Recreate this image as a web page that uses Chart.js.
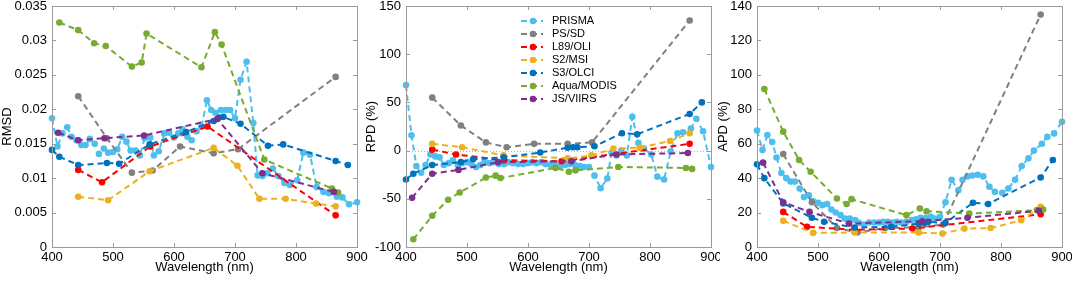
<!DOCTYPE html>
<html>
<head>
<meta charset="utf-8">
<script src="https://cdn.jsdelivr.net/npm/chart.js@4.4.1/dist/chart.umd.min.js"></script>
<style>
  body { margin: 0; background: #fff; }
  #wrap { position: relative; width: 1072px; height: 281px; overflow: hidden; }
  canvas { position: absolute; top: 0; }
</style>
</head>
<body>
<div id="wrap">
  <canvas id="c1" width="372" height="281" style="left:0px"></canvas>
  <canvas id="c2" width="360" height="281" style="left:360px"></canvas>
  <canvas id="c3" width="360" height="281" style="left:712px"></canvas>
</div>
<script>
// wavelengths (nm) of each sensor
const prismaWl = [400, 409, 417, 425, 432, 440, 448, 455, 462, 470, 477, 485, 492, 500, 507, 515, 522, 529, 537, 544,
  552, 561, 567, 575, 584, 592, 600, 607, 614, 622, 629, 637, 645, 654, 661, 668, 677, 685, 692, 700,
  709, 719, 730, 737, 745, 753, 762, 771, 781, 790, 802, 812, 823, 834, 845, 854, 867, 876, 887, 900];
const psWl = [443, 490, 531, 565, 610, 665, 705, 865];
const oliWl = [443, 482, 561, 655, 865];
const msiWl = [443, 492, 560, 665, 704, 740, 783, 833, 865];
const olciWl = [400, 412, 443, 490, 510, 560, 620, 665, 674, 681, 709, 754, 779, 865, 885];
const modisWl = [412, 443, 469, 488, 531, 547, 555, 645, 667, 678, 748, 859, 869];
const viirsWl = [410, 443, 486, 551, 671, 745, 862];

// RMSD
const prismaRmsd = [0.0187, 0.0146, 0.0165, 0.0174, 0.0160, 0.0155, 0.0148, 0.0148, 0.0157, 0.0150,
  0.0135, 0.0143, 0.0137, 0.0138, 0.0142, 0.0160, 0.0153, 0.0140, 0.0140, 0.0133,
  0.0158, 0.0159, 0.0133, 0.0139, 0.0165, 0.0166, 0.0159, 0.0165, 0.0171, 0.0160,
  0.0155, 0.0168, 0.0175, 0.0213, 0.0199, 0.0195, 0.0199, 0.0199, 0.0199, 0.0187,
  0.0243, 0.0269, 0.0180, 0.0104, 0.0103, 0.0107, 0.0114, 0.0103, 0.0093, 0.0090,
  0.0097, 0.0137, 0.0134, 0.0087, 0.0080, 0.0078, 0.0073, 0.0072, 0.0062, 0.0065];
const psRmsd = [0.0219, 0.0158, 0.0108, 0.0111, 0.0146, 0.0136, 0.0142, 0.0247];
const oliRmsd = [0.0112, 0.0094, 0.0146, 0.0175, 0.0046];
const msiRmsd = [0.0073, 0.0068, 0.0110, 0.0144, 0.0118, 0.0070, 0.0070, 0.0063, 0.0059];
const olciRmsd = [0.0141, 0.0131, 0.0119, 0.0122, 0.0121, 0.0149, 0.0167, 0.0183, 0.0188, 0.0189, 0.0179, 0.0147, 0.0149, 0.0125, 0.0119];
const modisRmsd = [0.0326, 0.0315, 0.0296, 0.0292, 0.0262, 0.0268, 0.0310, 0.0261, 0.0312, 0.0294, 0.0127, 0.0085, 0.0079];
const viirsRmsd = [0.0166, 0.0155, 0.0158, 0.0162, 0.0186, 0.0107, 0.0080];

// RPD (%)
const prismaRpd = [68, 16, -16, -23, -15, -4, -6, -7, -15, -13,
  -10, -15, -13, -12, -14, -17, -15, -12, -13, -12,
  -14, -14, -12, -13, -14, -14, -13, -12, -13, -12,
  -14, -15, -15, -16, -15, -14, -15, -16, -17, -17,
  -26, -39, -29, -2, -5, 0, -5, 35, 8, 2,
  -4, -27, -30, -1, 18, 19, 23, 33, 20, -17];
const psRpd = [55, 26, 8.5, 3.5, 7, 7, 8.5, 135];
const oliRpd = [1, -4, -10, -11, 7];
const msiRpd = [7, 3.5, -5, -8, -5, 2, 3, 10, 18];
const olciRpd = [-30, -24, -15, -12, -9, -7, -2, 3, 3.5, 3.5, 4.5, 18, 17, 38, 50];
const modisRpd = [-92, -67.6, -51, -43.5, -28, -26, -28.5, -18, -22, -20.5, -17, -18, -19];
const viirsRpd = [-49, -24, -20, -12, -11, -4, -2.5];

// APD (%)
const prismaApd = [67.7, 56.4, 65, 61, 52, 43, 40, 38, 38, 34,
  29, 30, 26.6, 25.7, 24.3, 25, 21.8, 20, 18.5, 16.5,
  16.5, 15.6, 14, 13, 14.2, 14.2, 14.2, 14.6, 14.6, 14.2,
  14.6, 14.2, 14.6, 15.6, 16.1, 16.9, 16.9, 17.5, 16.5, 17.5,
  26, 39, 33, 39, 41, 41.5, 42, 41, 35, 32,
  31.5, 34, 39, 47, 51.5, 56, 60, 64, 66, 72.7];
const psApd = [54, 26, 11, 8.5, 11, 11.5, 13, 135];
const oliApd = [20.4, 11.7, 10, 10.7, 19];
const msiApd = [15.2, 8.2, 8.4, 8.4, 7.8, 10.7, 11, 15.5, 23.3];
const olciApd = [48, 40, 25.3, 17, 14.6, 11.3, 11.7, 13.6, 14, 14.6, 14, 25.7, 25, 40.4, 50.5];
const modisApd = [91.8, 67, 50.5, 43.7, 28.2, 25, 27.8, 18.5, 22.4, 20.8, 19.4, 21.4, 21.8];
const viirsApd = [49, 26, 20.4, 13.6, 15, 17, 21];

const xTicks = [400, 500, 600, 700, 800, 900];

const series = [
  { label: 'PRISMA', color: '#4DBEEE', wl: prismaWl, rmsd: prismaRmsd, rpd: prismaRpd, apd: prismaApd },
  { label: 'PS/SD', color: '#808080', wl: psWl, rmsd: psRmsd, rpd: psRpd, apd: psApd },
  { label: 'L89/OLI', color: '#FF0000', wl: oliWl, rmsd: oliRmsd, rpd: oliRpd, apd: oliApd },
  { label: 'S2/MSI', color: '#EDB120', wl: msiWl, rmsd: msiRmsd, rpd: msiRpd, apd: msiApd },
  { label: 'S3/OLCI', color: '#0072BD', wl: olciWl, rmsd: olciRmsd, rpd: olciRpd, apd: olciApd },
  { label: 'Aqua/MODIS', color: '#77AC30', wl: modisWl, rmsd: modisRmsd, rpd: modisRpd, apd: modisApd },
  { label: 'JS/VIIRS', color: '#7E2F8E', wl: viirsWl, rmsd: viirsRmsd, rpd: viirsRpd, apd: viirsApd }
];

const FONT = "'Liberation Sans', Arial, Helvetica, sans-serif";
Chart.defaults.font.family = FONT;
Chart.defaults.font.size = 13;
Chart.defaults.color = '#000';
const AXIS_COLOR = '#9a9a9a';

function datasetsFor(key) {
  return series.map((s, i) => ({
    label: s.label,
    data: s.wl.map((w, j) => ({ x: w, y: s[key][j] })),
    borderColor: s.color,
    backgroundColor: s.color,
    borderWidth: 2,
    borderDash: [6, 4],
    pointRadius: 3.3,
    pointBorderWidth: 0,
    pointBackgroundColor: s.color,
    tension: 0,
    clip: false,
    order: series.length - i
  }));
}

// box with inward ticks, like the matlab axes
const framePlugin = {
  id: 'frame',
  afterDatasetsDraw(chart) {
    const { ctx, chartArea: a, scales } = chart;
    ctx.save();
    ctx.strokeStyle = AXIS_COLOR;
    ctx.lineWidth = 1;
    ctx.beginPath();
    scales.x.ticks.forEach(t => {
      const px = Math.round(scales.x.getPixelForValue(t.value)) + 0.5;
      ctx.moveTo(px, a.bottom); ctx.lineTo(px, a.bottom - 4);
      ctx.moveTo(px, a.top); ctx.lineTo(px, a.top + 4);
    });
    scales.y.ticks.forEach(t => {
      const py = Math.round(scales.y.getPixelForValue(t.value)) + 0.5;
      ctx.moveTo(a.left, py); ctx.lineTo(a.left + 4, py);
      ctx.moveTo(a.right, py); ctx.lineTo(a.right - 4, py);
    });
    ctx.stroke();
    ctx.strokeRect(Math.round(a.left) + 0.5, Math.round(a.top) + 0.5,
      Math.round(a.right - a.left), Math.round(a.bottom - a.top));
    ctx.restore();
  }
};

// dotted zero line in the RPD panel
const zeroPlugin = {
  id: 'zeroLine',
  beforeDatasetsDraw(chart, args, opts) {
    if (!opts.show) return;
    const { ctx, chartArea: a, scales } = chart;
    const y = Math.round(scales.y.getPixelForValue(0)) + 0.5;
    ctx.save();
    ctx.strokeStyle = '#b4b4b4';
    ctx.lineWidth = 1;
    ctx.setLineDash([1, 2]);
    ctx.beginPath();
    ctx.moveTo(a.left, y);
    ctx.lineTo(a.right, y);
    ctx.stroke();
    ctx.restore();
  }
};

// legend drawn inside the plot area
const boxLegend = {
  id: 'boxLegend',
  afterDatasetsDraw(chart, args, opts) {
    if (!opts.show) return;
    const { ctx } = chart;
    ctx.save();
    ctx.font = '11px ' + FONT;
    ctx.textBaseline = 'middle';
    chart.data.datasets.forEach((ds, i) => {
      const y = opts.y + i * opts.step;
      ctx.strokeStyle = ds.borderColor;
      ctx.lineWidth = 2;
      ctx.setLineDash([6, 4]);
      ctx.beginPath();
      ctx.moveTo(opts.x, y);
      ctx.lineTo(opts.x + 22, y);
      ctx.stroke();
      ctx.setLineDash([]);
      ctx.fillStyle = ds.borderColor;
      ctx.beginPath();
      ctx.arc(opts.x + 12, y, 3.3, 0, Math.PI * 2);
      ctx.fill();
      ctx.fillStyle = '#000';
      ctx.fillText(ds.label, opts.x + 31, y);
    });
    ctx.restore();
  }
};

function makePanel(id, key, yMin, yMax, yStep, yTitle, yWidth, yTitlePad, padRight, fmt, extra) {
  return new Chart(document.getElementById(id), {
    type: 'line',
    data: { datasets: datasetsFor(key) },
    plugins: [framePlugin, zeroPlugin, boxLegend],
    options: {
      responsive: false,
      animation: false,
      events: [],
      devicePixelRatio: 1,
      layout: { padding: { left: 0, right: padRight, top: 6, bottom: 0 } },
      plugins: {
        legend: { display: false },
        tooltip: { enabled: false },
        zeroLine: { show: !!extra.zero },
        boxLegend: extra.legend ? Object.assign({ show: true }, extra.legend) : { show: false }
      },
      scales: {
        x: {
          type: 'linear', min: 400, max: 900,
          grid: { display: false, drawTicks: false },
          border: { display: false },
          afterBuildTicks(s) { s.ticks = xTicks.map(v => ({ value: v })); },
          ticks: { padding: 3, maxRotation: 0, autoSkip: false, callback: v => String(v) },
          title: { display: true, text: 'Wavelength (nm)', padding: { top: 0, bottom: 6 } },
          afterFit(s) { s.height = 34; s.paddingLeft = 0; s.paddingRight = 0; }
        },
        y: {
          type: 'linear', min: yMin, max: yMax,
          grid: { display: false, drawTicks: false },
          border: { display: false },
          ticks: { stepSize: yStep, padding: 5, callback: fmt },
          title: { display: true, text: yTitle, padding: { top: yTitlePad, bottom: 0 } },
          afterFit(s) { s.width = yWidth; s.paddingTop = 0; s.paddingBottom = 0; }
        }
      }
    }
  });
}

makePanel('c1', 'rmsd', 0, 0.035, 0.005, 'RMSD', 52, 0, 15, v => String(+v.toFixed(3)), {});
makePanel('c2', 'rpd', -100, 150, 50, 'RPD (%)', 46, 4, 9, v => String(v), {
  zero: true,
  legend: { x: 161, y: 21, step: 13 }
});
makePanel('c3', 'apd', 0, 140, 20, 'APD (%)', 45, 4, 10, v => String(v), {});
</script>
</body>
</html>
